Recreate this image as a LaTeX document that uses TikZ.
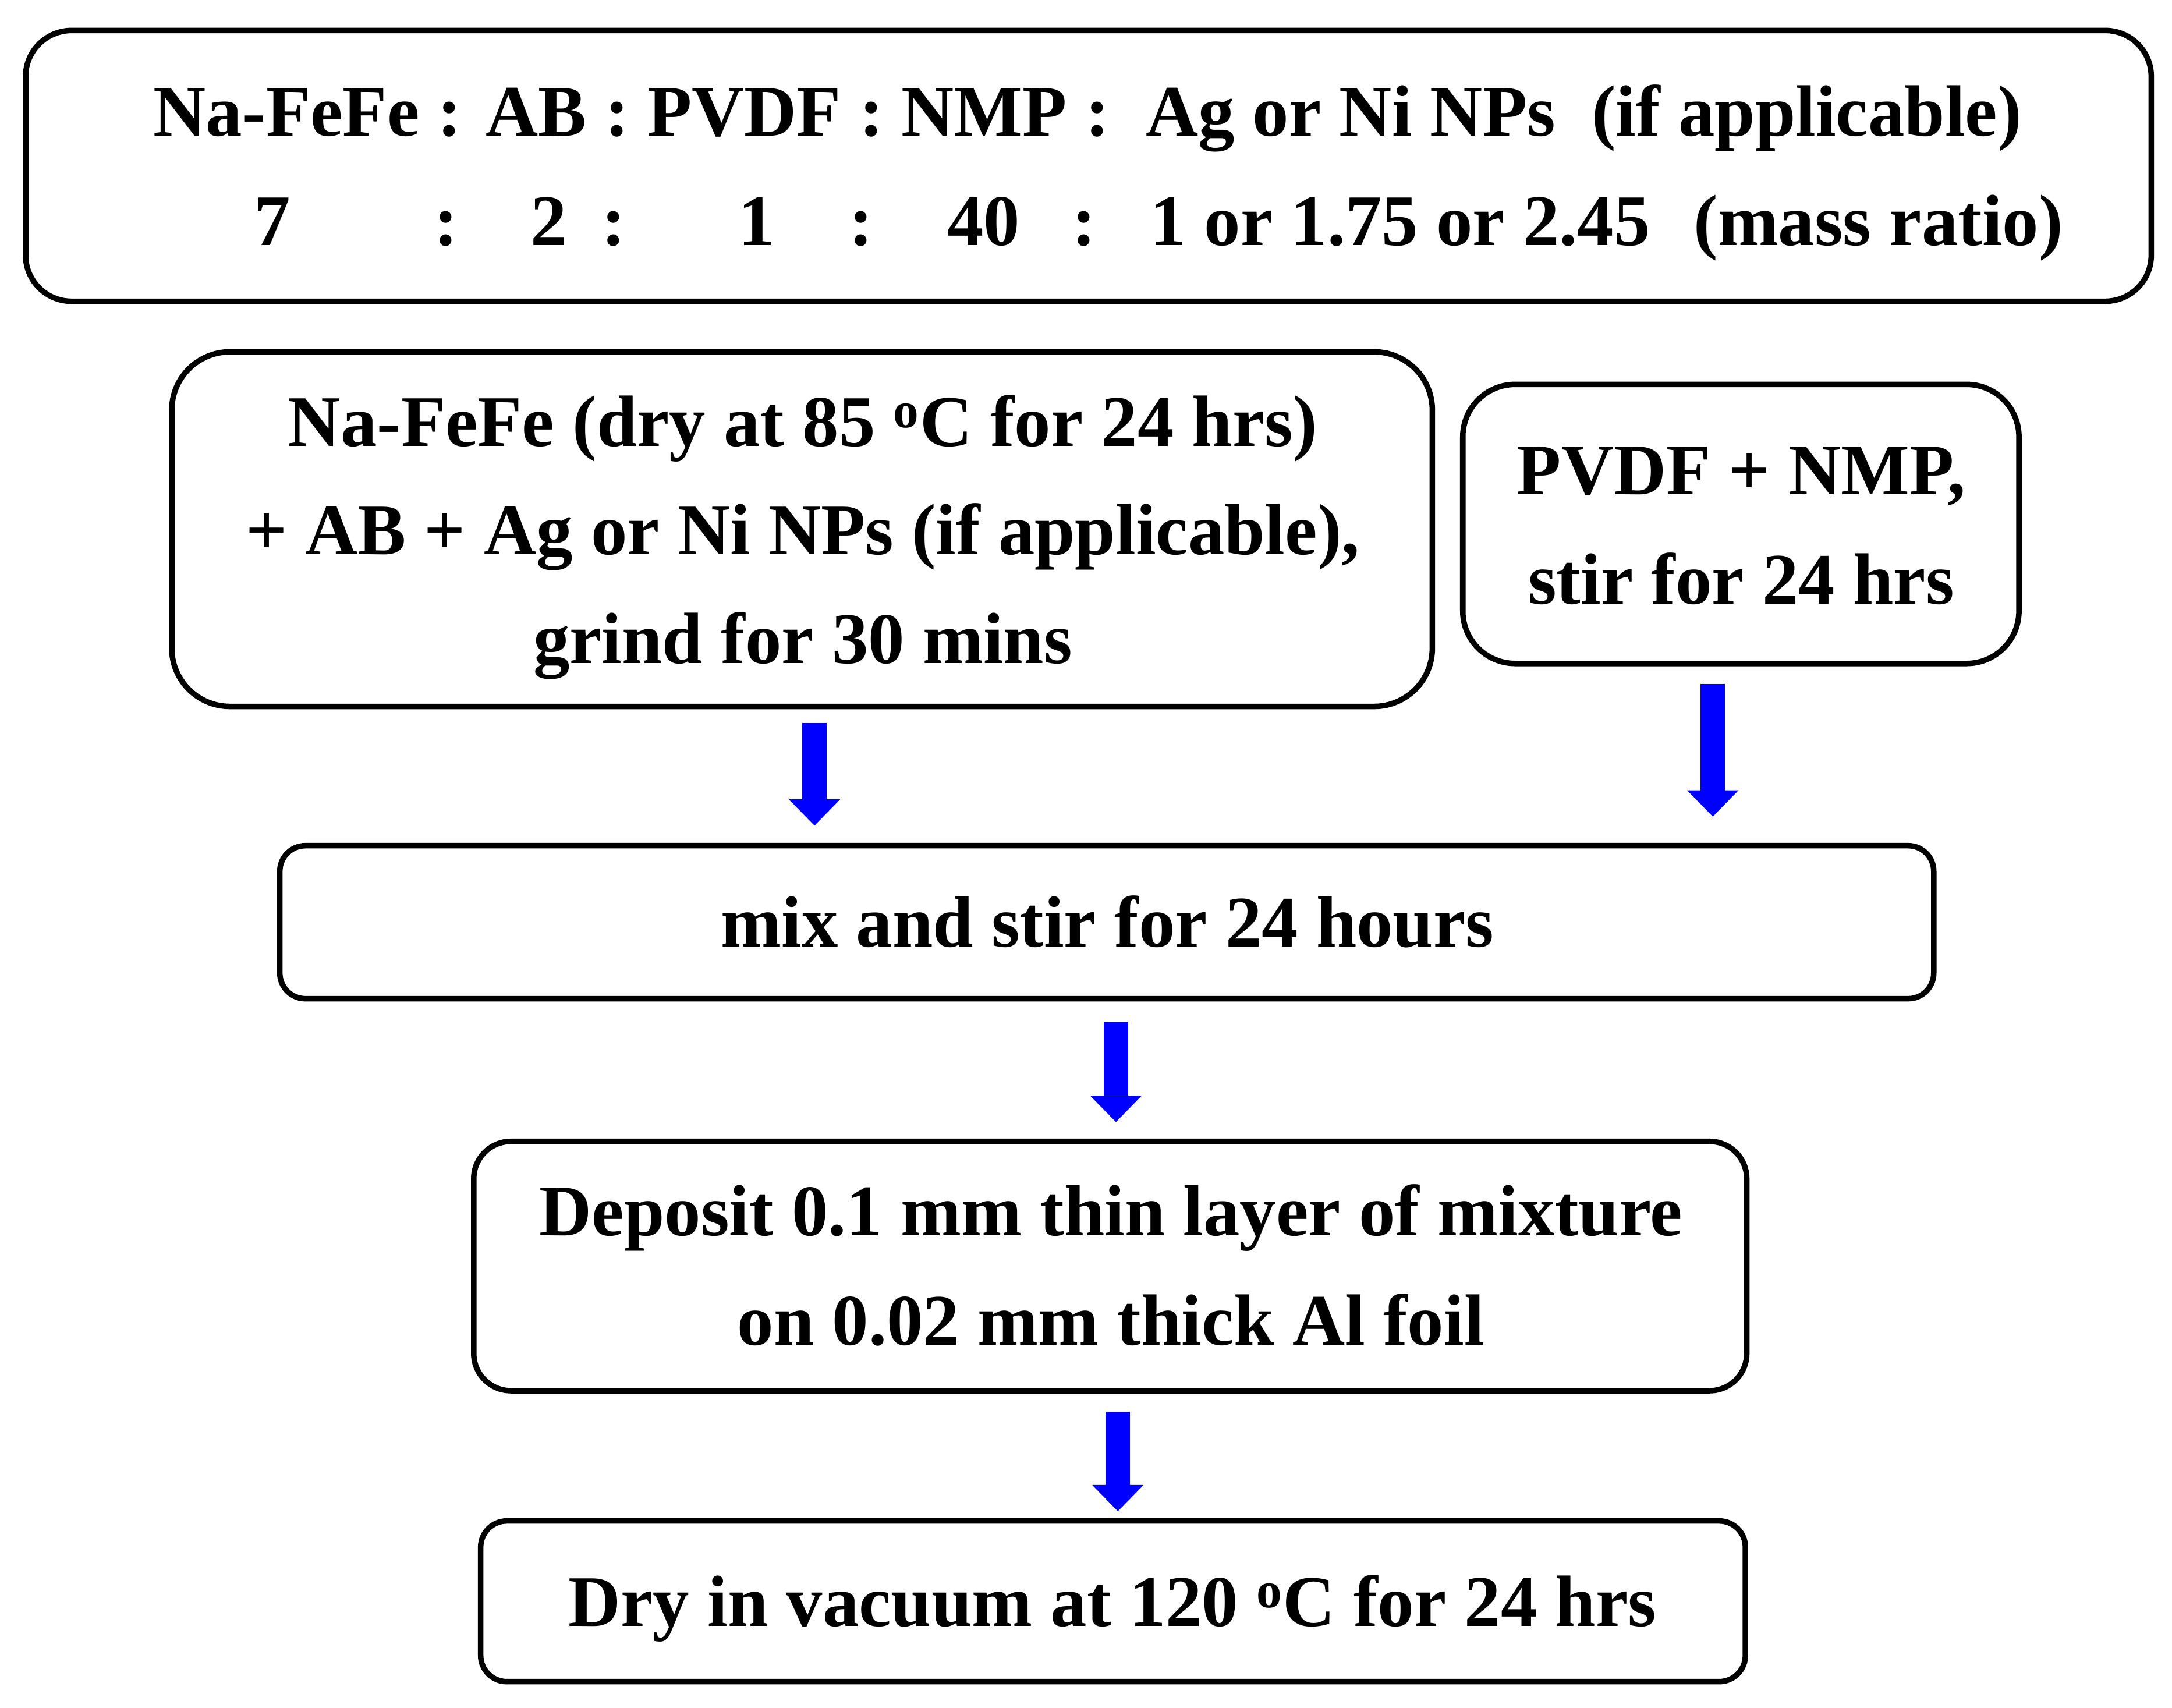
\documentclass[tikz,border=0pt]{standalone}
\usepackage{fontspec}
\setmainfont{Liberation Serif}
\usetikzlibrary{arrows.meta,fit}
\begin{document}
\begin{tikzpicture}[x=0.023795cm,y=-0.023795cm,
  box/.style={draw=black, line width=0.095cm, inner sep=0pt, outer sep=0pt, fill=white},
  txt/.style={inner sep=0pt, outer sep=0pt, anchor=base, font=\fontsize{35.5pt}{53pt}\selectfont\bfseries},
  arr/.style={draw=blue, line width=0.42cm, -{Triangle[width=0.88cm,length=0.45cm,line width=0pt]}}]
\useasboundingbox (0,0) rectangle (1568,1233);
% boxes
\node[box, rounded corners=0.79cm, fit={(18.5,22) (1553,217.5)}] (top) {};
\node[box, rounded corners=1.0cm, fit={(124,254) (1034,510)}] (left) {};
\node[box, rounded corners=0.9cm, fit={(1056,277.5) (1457.5,479)}] (right) {};
\node[box, rounded corners=0.44cm, fit={(202,610.5) (1396,721)}] (mix) {};
\node[box, rounded corners=0.64cm, fit={(342,824) (1261,1004)}] (dep) {};
\node[box, rounded corners=0.45cm, fit={(347,1098) (1260,1214)}] (dry) {};
% top box text
\node[txt] (t1) at (785,98.2) {Na-FeFe : AB : PVDF : NMP :\ \ Ag or Ni NPs\ \ (if applicable)};
\node[txt] (t2a) at (196.7,177) {7};
\node[txt] (t2b) at (322,177) {:};
\node[txt] (t2c) at (396,177) {2};
\node[txt] (t2d) at (443,177) {:};
\node[txt] (t2e) at (546,177) {1};
\node[txt] (t2f) at (621.6,177) {:};
\node[txt] (t2g) at (710,177) {40};
\node[txt] (t2h) at (782.6,177) {:};
\node[txt] (t2i) at (1010.7,177) {1 or 1.75 or 2.45};
\node[txt] (t2j) at (1356,177) {(mass ratio)};
% left box text
\node[txt] (l1) at (579.5,322) {Na-FeFe (dry at 85 \textsuperscript{o}C for 24 hrs)};
\node[txt] (l2) at (579.5,400.5) {+ AB + Ag or Ni NPs (if applicable),};
\node[txt] (l3) at (579.5,479) {grind for 30 mins};
% right box text
\node[txt] (r1) at (1257,357) {PVDF + NMP,};
\node[txt] (r2) at (1257,436) {stir for 24 hrs};
% mix
\node[txt] (m1) at (799.5,683.5) {mix and stir for 24 hours};
% deposit
\node[txt] (d1) at (802,892) {Deposit 0.1 mm thin layer of mixture};
\node[txt] (d2) at (802,971) {on 0.02 mm thick Al foil};
% dry
\node[txt] (y1) at (803,1174) {Dry in vacuum at 120 \textsuperscript{o}C for 24 hrs};
% arrow columns
\coordinate (c1) at (588,0);
\coordinate (c2) at (1236.5,0);
\coordinate (c3) at (805.6,0);
\coordinate (c4) at (807,0);
\draw[arr, shorten <=0.286cm, shorten >=0.345cm] (left.south -| c1) -- (mix.north -| c1);
\draw[arr, shorten <=0.35cm, shorten >=0.5cm] (right.south -| c2) -- (mix.north -| c2);
\draw[arr, shorten <=0.405cm, shorten >=0.333cm] (mix.south -| c3) -- (dep.north -| c3);
\draw[arr, shorten <=0.357cm, shorten >=0.167cm] (dep.south -| c4) -- (dry.north -| c4);
\end{tikzpicture}
\end{document}
